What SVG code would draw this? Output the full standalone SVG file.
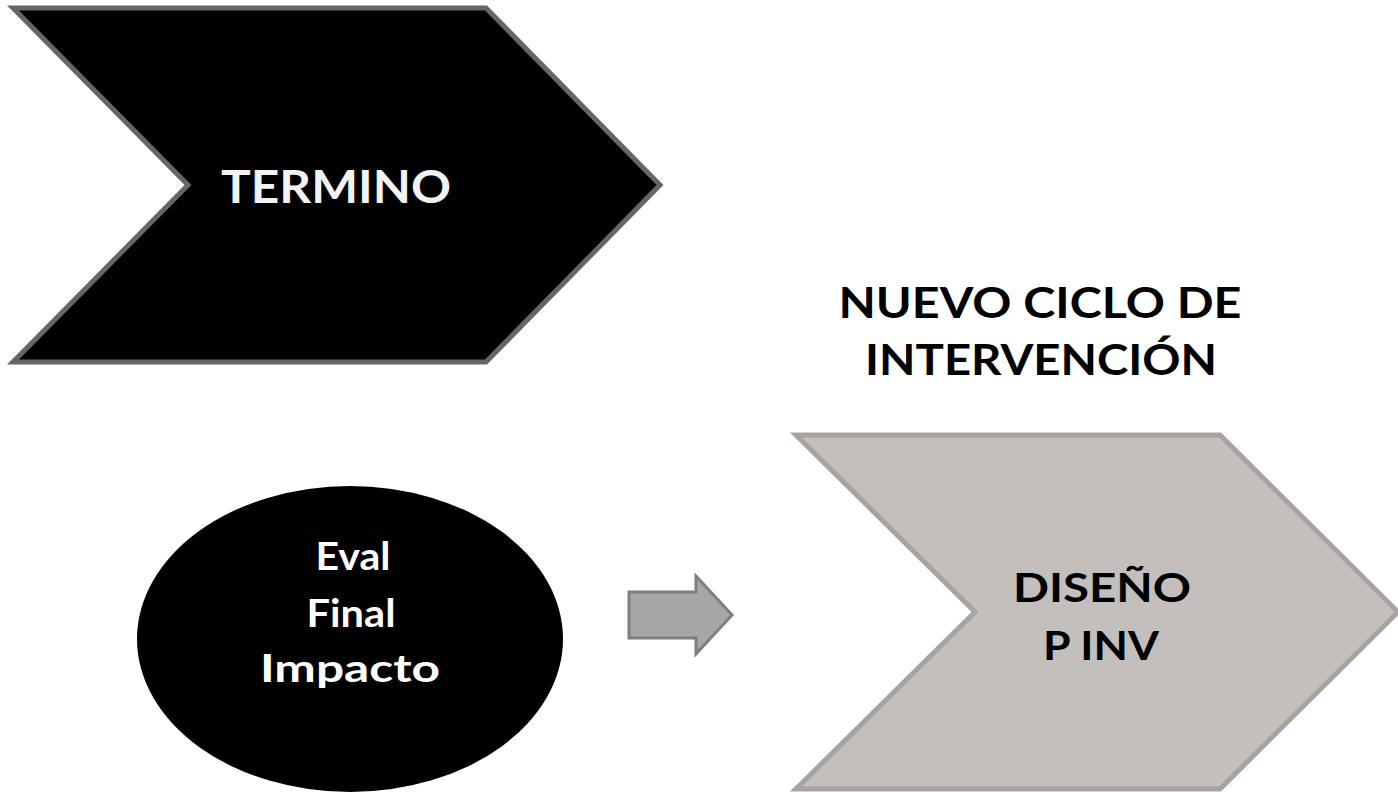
<svg xmlns="http://www.w3.org/2000/svg" width="1398" height="792" viewBox="0 0 1398 792">
<style>
.t{font-family:Lato,"Open Sans","Liberation Sans",sans-serif;font-weight:bold;text-anchor:middle}
</style>
<rect width="1398" height="792" fill="#ffffff"/>
<g id="termino">
<polygon points="13,8 486,8 660,185 486,362 13,362 188,185" fill="#000000" stroke="#666666" stroke-width="5"/>
<text class="t" x="336" y="203" font-size="45" fill="#f2f2f2" textLength="230" lengthAdjust="spacingAndGlyphs">TERMINO</text>
</g>
<g id="nuevo-ciclo">
<text class="t" x="1040" y="318" font-size="42" fill="#000000" textLength="403" lengthAdjust="spacingAndGlyphs">NUEVO CICLO DE</text>
<text class="t" x="1041" y="375" font-size="42" fill="#000000" textLength="352" lengthAdjust="spacingAndGlyphs">INTERVENCIÓN</text>
</g>
<g id="eval">
<ellipse cx="350" cy="639" rx="213" ry="153" fill="#000000"/>
<text class="t" x="353" y="570" font-size="39" fill="#ffffff" textLength="75" lengthAdjust="spacingAndGlyphs">Eval</text>
<text class="t" x="351" y="627" font-size="39" fill="#ffffff" textLength="89" lengthAdjust="spacingAndGlyphs">Final</text>
<text class="t" x="350" y="682" font-size="39" fill="#ffffff" textLength="180" lengthAdjust="spacingAndGlyphs">Impacto</text>
</g>
<g id="diseno">
<polygon points="796,435 1220,435 1398,612 1220,789 796,789 975,612" fill="#c3bfbd" stroke="#a8a2a0" stroke-width="5"/>
<text class="t" x="1102" y="602" font-size="41" fill="#000000" textLength="178" lengthAdjust="spacingAndGlyphs">DISEÑO</text>
<text class="t" x="1101" y="660" font-size="41" fill="#000000" textLength="116" lengthAdjust="spacingAndGlyphs">P INV</text>
</g>
<g id="connectors">
<polygon points="629,592 696,592 696,576 732,615 696,654 696,638 629,638" fill="#a6a6a6" stroke="#7f7f7f" stroke-width="3"/>
</g>
</svg>
